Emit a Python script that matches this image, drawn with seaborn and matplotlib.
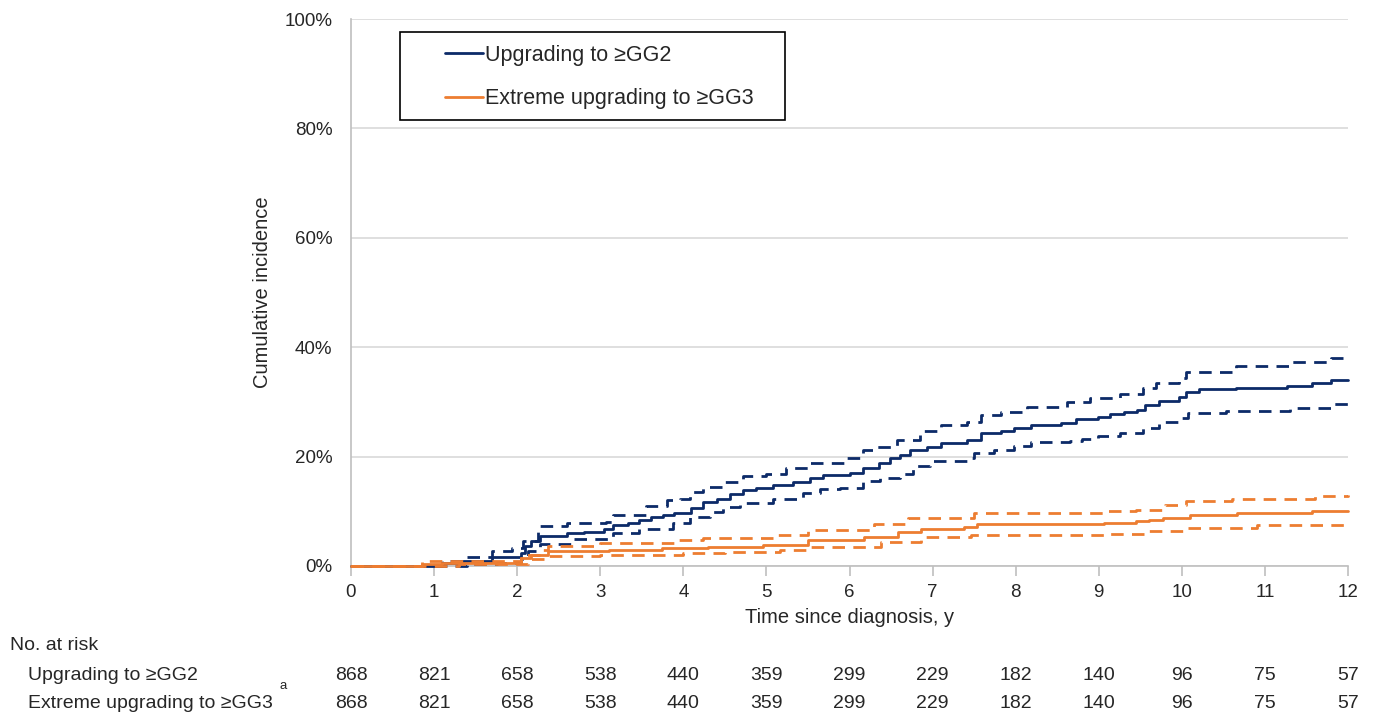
import numpy as np
import pandas as pd
import seaborn as sns
import matplotlib.pyplot as plt
from matplotlib.lines import Line2D
from matplotlib.patches import Rectangle
from matplotlib.transforms import blended_transform_factory

# step curves: time (years), cumulative incidence (%)
gg2_t = [0, 1.1, 1.35, 1.7, 2.05, 2.1, 2.17, 2.27, 2.6, 2.81, 3.05, 3.15, 3.33, 3.47, 3.61, 3.75, 3.89,
         4.09, 4.24, 4.4, 4.56, 4.72, 4.88, 5.08, 5.32, 5.52, 5.68, 6.0, 6.16, 6.36, 6.49, 6.61, 6.73,
         6.93, 7.1, 7.42, 7.58, 7.82, 7.98, 8.18, 8.54, 8.73, 8.99, 9.14, 9.3, 9.46, 9.56, 9.73, 9.97,
         10.05, 10.21, 10.65, 11.26, 11.57, 11.8, 12]
gg2 = [0, 0.5, 1.0, 1.7, 2.4, 3.6, 4.5, 5.4, 6.0, 6.2, 6.7, 7.5, 7.9, 8.5, 8.9, 9.3, 9.7,
       10.6, 11.7, 12.3, 13.1, 13.9, 14.3, 14.8, 15.4, 16.0, 16.6, 17.0, 18.0, 18.8, 19.7, 20.3, 21.2,
       21.8, 22.4, 23.0, 24.3, 24.6, 25.2, 25.8, 26.2, 26.8, 27.3, 27.8, 28.2, 28.6, 29.4, 30.2, 30.9,
       31.9, 32.3, 32.6, 32.9, 33.4, 34.0, 34.0]

gg2_hi_t = [0, 1.1, 1.35, 1.7, 1.94, 2.07, 2.25, 2.27, 2.6, 3.07, 3.15, 3.55, 3.8, 3.96, 4.08, 4.24,
            4.48, 4.72, 5.0, 5.24, 5.52, 5.96, 6.16, 6.32, 6.57, 6.85, 7.1, 7.42, 7.58, 7.82, 8.14,
            8.62, 8.89, 9.25, 9.53, 9.69, 9.97, 10.05, 10.65, 11.3, 11.8, 12]
gg2_hi = [0, 0.9, 1.6, 2.7, 3.3, 4.5, 6.4, 7.3, 7.8, 8.1, 9.4, 11.0, 12.0, 12.3, 13.6, 14.5,
          15.4, 16.5, 16.9, 17.9, 18.8, 19.7, 21.2, 21.8, 23.0, 24.6, 25.8, 26.4, 27.6, 28.2, 29.1,
          29.9, 30.7, 31.5, 32.6, 33.5, 34.3, 35.5, 36.5, 37.3, 38.0, 38.3]

gg2_lo_t = [0, 1.4, 1.76, 2.05, 2.13, 2.27, 2.68, 3.15, 3.47, 3.87, 4.08, 4.32, 4.48, 4.68, 5.08,
            5.44, 5.64, 5.88, 6.16, 6.37, 6.61, 6.77, 6.97, 7.42, 7.5, 7.74, 7.98, 8.18, 8.65, 8.8,
            8.99, 9.25, 9.53, 9.73, 9.97, 10.07, 10.53, 11.3, 11.8, 12]
gg2_lo = [0, 0.3, 0.5, 1.2, 2.7, 4.1, 4.9, 6.1, 6.7, 7.9, 9.0, 9.9, 10.8, 11.6, 12.2,
          13.3, 14.0, 14.2, 15.6, 16.0, 16.9, 18.3, 19.2, 19.7, 20.6, 21.2, 21.9, 22.7, 22.9, 23.3,
          23.7, 24.3, 25.3, 26.4, 27.0, 28.0, 28.3, 28.8, 29.7, 29.8]

gg3_t = [0, 0.85, 1.1, 2.05, 2.17, 2.37, 3.1, 3.74, 4.3, 4.96, 5.5, 6.18, 6.58, 6.86, 7.38, 7.54,
         9.06, 9.45, 9.6, 9.77, 10.1, 10.66, 11.57, 12]
gg3 = [0, 0.3, 0.6, 1.5, 2.0, 2.7, 3.0, 3.2, 3.4, 3.8, 4.7, 5.3, 6.2, 6.8, 7.1, 7.6,
       7.9, 8.2, 8.5, 8.8, 9.3, 9.6, 10.1, 10.1]

gg3_hi_t = [0, 0.85, 2.05, 2.27, 2.37, 3.0, 3.9, 4.24, 5.08, 5.5, 6.3, 6.7, 7.5, 9.1, 9.45, 9.8,
            10.05, 10.6, 11.6, 12]
gg3_hi = [0, 0.9, 2.1, 3.0, 3.6, 4.2, 4.7, 5.2, 5.6, 6.5, 7.6, 8.7, 9.7, 10.0, 10.3, 11.1,
          11.9, 12.3, 12.8, 12.9]

gg3_lo_t = [0, 1.3, 2.13, 2.37, 3.0, 4.0, 4.5, 5.16, 5.5, 6.38, 6.86, 7.46, 9.06, 9.6, 10.05,
            10.9, 12]
gg3_lo = [0, 0.3, 1.2, 1.8, 2.1, 2.3, 2.6, 2.9, 3.5, 4.4, 5.3, 5.7, 5.9, 6.4, 7.0,
          7.5, 7.5]

years = list(range(0, 13))
risk_gg2 = [868, 821, 658, 538, 440, 359, 299, 229, 182, 140, 96, 75, 57]
risk_gg3 = [868, 821, 658, 538, 440, 359, 299, 229, 182, 140, 96, 75, 57]

label_gg2 = "Upgrading to \u2265GG2"
label_gg3 = "Extreme upgrading to \u2265GG3"

navy = "#0C2A68"
orange = "#ED7D31"

sns.set_style("white")
plt.rcParams['font.family'] = ['Liberation Sans', 'DejaVu Sans']

W, H = 1374, 719
fig = plt.figure(figsize=(W / 100, H / 100), dpi=100)
ax = fig.add_axes([351 / W, 1 - 566 / H, 997 / W, 547 / H])

dash = (0, (4.5, 3))
curves = [
    (gg2_t, gg2, navy, "-"),
    (gg2_hi_t, gg2_hi, navy, dash),
    (gg2_lo_t, gg2_lo, navy, dash),
    (gg3_t, gg3, orange, "-"),
    (gg3_hi_t, gg3_hi, orange, dash),
    (gg3_lo_t, gg3_lo, orange, dash),
]
for t, v, col, ls in curves:
    df = pd.DataFrame({"t": t, "v": v})
    sns.lineplot(data=df, x="t", y="v", ax=ax, color=col, linestyle=ls, linewidth=2.0,
                 drawstyle="steps-post", sort=False, estimator=None, clip_on=False, zorder=3)

ax.set_xlim(0, 12)
ax.set_ylim(0, 100)
ax.set_xticks(years)
ax.set_yticks(range(0, 101, 20))
ax.set_yticklabels([f"{y}%" for y in range(0, 101, 20)])
ax.yaxis.grid(True, color="#D9D9D9", linewidth=1.2)
ax.set_axisbelow(True)
for s in ["top", "right"]:
    ax.spines[s].set_visible(False)
for s in ["left", "bottom"]:
    ax.spines[s].set_color("#BFBFBF")
    ax.spines[s].set_linewidth(1.2)
ax.tick_params(axis="x", bottom=True, length=7, color="#BFBFBF", width=1.2, labelsize=13.5, pad=6)
ax.tick_params(axis="y", left=False, labelsize=13.5, pad=10)
ax.set_xlabel("Time since diagnosis, y", fontsize=14.5, labelpad=5)
ax.set_ylabel("Cumulative incidence", fontsize=14.5, labelpad=9)

# legend: frame drawn as a separate box, entries placed inside it
fig.add_artist(Rectangle((400 / W, 1 - 120 / H), 385 / W, 88 / H, transform=fig.transFigure,
                         fill=True, facecolor="white", edgecolor="black", linewidth=1.2, zorder=4))
handles = [Line2D([], [], color=navy, linewidth=2.0), Line2D([], [], color=orange, linewidth=2.0)]
leg = fig.legend(handles, [label_gg2, label_gg3], loc="upper left",
                 bbox_to_anchor=(445 / W, 1 - 45 / H), bbox_transform=fig.transFigure,
                 fontsize=15.5, frameon=False, handlelength=1.77, handletextpad=0.1,
                 borderpad=0, labelspacing=1.04, borderaxespad=0)
leg.set_zorder(5)

# number at risk table
tr = blended_transform_factory(ax.transData, fig.transFigure)
fig.text(10 / W, 1 - 645 / H, "No. at risk", fontsize=14, va="center", ha="left")
fig.text(28 / W, 1 - 675 / H, label_gg2, fontsize=14, va="center", ha="left")
fig.text(28 / W, 1 - 704 / H, label_gg3, fontsize=14, va="center", ha="left")
fig.text(279 / W, 1 - 686 / H, "a", fontsize=9.5, va="center", ha="left")
for x, a, b in zip(years, risk_gg2, risk_gg3):
    ax.text(x, 1 - 675 / H, str(a), transform=tr, fontsize=14, ha="center", va="center")
    ax.text(x, 1 - 704 / H, str(b), transform=tr, fontsize=14, ha="center", va="center")

fig.savefig("out.png", dpi=100)
